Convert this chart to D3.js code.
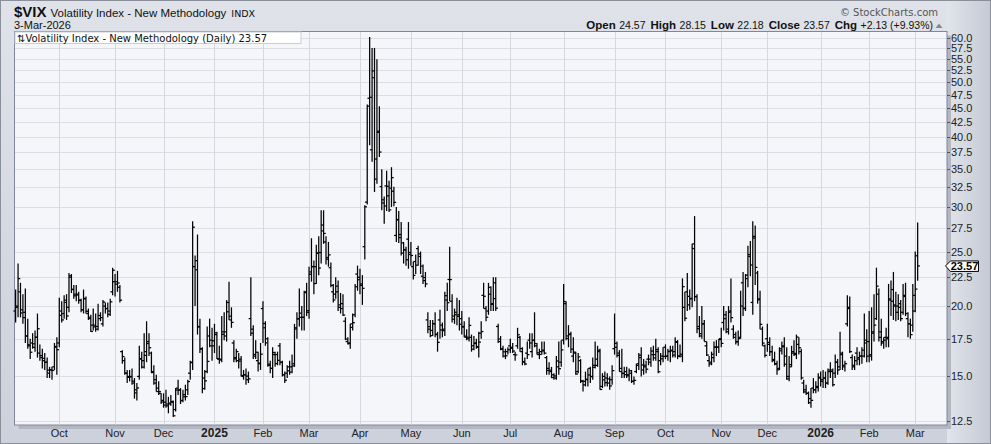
<!DOCTYPE html>
<html><head><meta charset="utf-8">
<script src="https://cdn.jsdelivr.net/npm/d3@7"></script>
<style>html,body{margin:0;padding:0;background:#fff}svg{display:block}</style>
</head><body><svg id="c" width="991" height="444"></svg>
<script>
// ---- DATA ----
const months = ["2024-09","2024-10","2024-11","2024-12","2025-01","2025-02","2025-03","2025-04","2025-05","2025-06","2025-07","2025-08","2025-09","2025-10","2025-11","2025-12","2026-01","2026-02","2026-03"];
const monthDays = [
 [5,6,9,10,11,12,13,16,17,18,19,20,23,24,25,26,27,30],
 [1,2,3,4,7,8,9,10,11,14,15,16,17,18,21,22,23,24,25,28,29,30,31],
 [1,4,5,6,7,8,11,12,13,14,15,18,19,20,21,22,25,26,27,29],
 [2,3,4,5,6,9,10,11,12,13,16,17,18,19,20,23,24,26,27,30,31],
 [2,3,6,7,8,10,13,14,15,16,17,21,22,23,24,27,28,29,30,31],
 [3,4,5,6,7,10,11,12,13,14,18,19,20,21,24,25,26,27,28],
 [3,4,5,6,7,10,11,12,13,14,17,18,19,20,21,24,25,26,27,28,31],
 [1,2,3,4,7,8,9,10,11,14,15,16,17,21,22,23,24,25,28,29,30],
 [1,2,5,6,7,8,9,12,13,14,15,16,19,20,21,22,23,27,28,29,30],
 [2,3,4,5,6,9,10,11,12,13,16,17,18,20,23,24,25,26,27,30],
 [1,2,3,7,8,9,10,11,14,15,16,17,18,21,22,23,24,25,28,29,30,31],
 [1,4,5,6,7,8,11,12,13,14,15,18,19,20,21,22,25,26,27,28,29],
 [2,3,4,5,8,9,10,11,12,15,16,17,18,19,22,23,24,25,26,29,30],
 [1,2,3,6,7,8,9,10,13,14,15,16,17,20,21,22,23,24,27,28,29,30,31],
 [3,4,5,6,7,10,11,12,13,14,17,18,19,20,21,24,25,26,28],
 [1,2,3,4,5,8,9,10,11,12,15,16,17,18,19,22,23,24,26,29,30,31],
 [2,5,6,7,8,9,12,13,14,15,16,20,21,22,23,26,27,28,29,30],
 [2,3,4,5,6,9,10,11,12,13,17,18,19,20,23,24,25,26,27],
 [2,3]
];
const open = [
 19.6,20.0,21.2,19.7,19.5,17.7,17.0,17.2,16.9,17.6,16.5,16.2,16.0,15.9,15.2,15.4,15.6,16.9,
 17.2,19.6,19.4,20.3,19.9,22.5,21.4,21.0,21.0,20.5,19.7,20.6,19.4,19.0,18.5,18.5,18.4,19.0,18.6,20.0,19.8,19.6,21.2,
 22.1,22.1,21.6,16.6,16.0,15.2,15.0,15.0,14.6,14.2,15.0,16.1,16.0,16.6,17.3,16.5,15.3,14.8,14.3,14.0,
 13.6,13.5,13.4,13.4,13.5,13.1,14.3,14.2,13.6,13.8,14.2,15.2,15.9,23.5,23.2,18.4,16.8,14.9,15.3,17.7,17.0,
 17.0,17.8,16.1,16.1,18.0,18.0,20.3,18.9,17.2,16.2,16.0,16.1,15.0,15.1,14.8,19.0,18.2,16.3,16.0,15.8,
 19.8,18.3,17.5,15.7,15.5,16.4,16.4,17.0,15.9,15.1,15.2,15.6,15.6,15.8,18.3,19.0,19.1,19.1,21.2,
 19.5,23.0,23.5,23.5,24.8,24.9,27.2,26.0,24.4,23.4,21.2,21.0,21.2,20.1,20.2,18.8,17.3,17.2,18.6,19.3,22.8,
 22.5,21.9,25.5,30.6,46.8,37.9,50.9,36.5,40.9,32.6,30.5,32.7,31.4,32.4,32.0,26.7,28.5,26.8,25.9,25.2,26.3,
 24.9,23.5,24.0,25.3,24.5,22.6,22.2,18.9,18.2,18.1,18.6,17.8,18.9,18.5,18.2,20.5,22.3,20.4,19.2,19.5,19.3,
 19.0,18.4,17.6,17.5,17.6,17.0,17.2,16.9,17.9,20.9,19.8,19.6,21.0,20.2,22.0,18.4,17.3,16.8,16.3,16.6,
 17.0,16.9,16.4,17.0,17.6,16.6,15.9,16.5,17.4,16.6,17.4,17.0,16.4,16.6,16.7,16.2,15.5,15.3,15.1,14.9,15.6,15.9,
 17.4,20.2,17.7,17.8,16.3,16.5,15.3,16.0,14.7,14.7,14.8,15.5,15.0,15.7,16.1,16.7,14.4,15.0,14.9,14.6,14.8,
 16.8,16.9,16.5,15.5,15.2,15.3,15.1,15.2,14.7,15.3,15.8,16.2,15.4,15.6,16.1,15.9,16.4,16.4,16.6,16.0,16.3,
 16.9,16.3,16.6,16.7,16.6,17.3,16.3,16.3,19.9,21.2,20.1,20.6,25.8,20.8,18.4,17.7,18.6,17.0,16.0,15.9,16.2,16.9,16.9,
 17.5,18.7,19.3,18.2,19.6,18.2,17.8,17.3,17.6,22.0,19.8,22.7,24.5,20.3,26.6,22.9,20.6,18.2,17.0,
 17.5,17.1,16.6,16.0,15.8,15.5,16.8,17.0,16.3,15.0,15.6,16.6,16.4,17.1,16.6,14.6,14.2,14.0,13.7,14.3,14.2,14.4,
 14.9,14.8,14.9,14.6,15.4,15.3,15.2,15.9,15.6,16.4,15.6,18.6,19.8,16.2,15.7,16.5,16.2,16.3,16.7,17.4,
 17.3,16.4,18.0,19.0,21.0,18.0,17.3,17.6,17.6,20.5,21.4,20.0,20.0,20.2,19.5,20.8,19.0,18.6,18.5,
 20.9,24.57
];
const high = [
 21.4,23.8,22.0,21.0,21.5,19.0,17.5,17.9,18.1,19.4,17.1,16.8,16.5,16.2,15.6,15.6,17.2,17.6,
 20.7,20.4,20.9,21.0,22.9,22.8,21.8,21.8,21.2,20.6,21.4,20.8,19.8,19.3,19.8,19.4,20.2,19.5,20.5,20.3,20.3,20.6,23.4,
 22.8,23.1,21.8,16.7,16.2,15.4,15.4,15.5,14.9,14.6,17.0,16.6,17.9,18.8,17.9,16.6,15.7,15.1,14.7,14.0,
 14.0,14.2,13.8,13.9,13.6,14.3,14.8,14.3,14.2,14.5,14.8,16.0,28.3,24.6,26.8,19.0,16.9,15.4,18.4,19.0,18.3,
 18.6,18.0,17.0,19.2,19.5,20.5,22.1,19.9,17.4,16.8,16.5,16.3,15.4,15.5,15.3,22.5,18.5,17.4,16.6,17.2,
 20.4,18.8,17.6,16.0,16.9,16.6,16.6,17.2,16.0,15.3,15.7,16.0,16.4,18.6,19.5,21.5,20.0,21.3,22.0,
 23.5,26.4,24.1,25.7,26.6,29.6,29.6,26.6,26.0,23.9,21.9,22.5,22.2,21.1,21.0,19.1,17.6,18.6,19.4,21.9,23.6,
 23.3,22.7,30.2,45.6,60.1,57.5,57.5,54.9,45.3,35.0,31.3,34.8,33.4,35.3,32.6,30.0,29.5,28.2,26.0,25.5,28.2,
 26.0,24.0,24.7,25.6,25.0,23.7,23.0,19.5,18.9,18.9,19.5,18.0,19.7,18.7,21.2,22.0,25.5,21.0,19.8,20.7,20.5,
 19.6,18.8,18.2,19.1,17.8,17.7,17.5,18.0,18.8,22.0,20.0,22.0,21.7,22.5,22.5,18.6,17.7,17.0,16.8,16.9,
 17.5,17.2,16.6,18.3,17.7,16.9,16.2,17.3,17.9,17.9,19.5,17.2,16.8,17.3,17.3,16.3,15.9,15.6,15.2,16.3,17.3,17.4,
 21.9,20.4,18.5,18.0,17.6,16.6,16.5,16.1,14.8,15.3,15.5,15.6,16.2,17.3,17.0,16.8,15.2,15.3,15.2,15.0,15.7,
 19.4,17.3,16.7,16.8,15.6,15.6,15.5,15.4,15.0,15.8,16.5,16.9,16.1,16.0,16.4,16.9,17.0,17.5,16.9,16.5,16.9,
 17.1,16.8,17.0,17.0,17.6,17.4,17.1,22.4,21.2,22.9,21.4,25.8,28.9,21.0,19.2,20.0,18.9,17.3,16.3,16.6,17.3,17.4,17.5,
 18.3,20.0,19.6,20.0,22.4,18.5,18.0,18.1,21.3,23.0,22.8,25.6,26.1,28.3,27.8,23.1,21.3,18.4,17.1,
 18.6,17.6,17.0,16.6,16.0,16.9,17.3,17.6,16.9,16.3,17.0,17.4,17.8,17.6,16.8,14.8,14.5,14.1,14.3,14.9,14.7,15.2,
 15.3,15.4,15.3,15.5,15.9,15.5,16.4,16.1,18.0,16.6,16.0,20.9,20.8,16.4,16.3,16.9,16.6,16.9,19.4,18.2,
 19.6,19.9,21.0,23.4,21.5,19.0,17.6,18.3,21.9,22.2,23.0,21.2,21.0,20.5,21.9,22.0,19.5,19.0,21.9,
 25.0,28.15
];
const low = [
 18.7,19.1,19.1,18.6,17.2,16.8,16.1,16.8,16.6,16.2,16.0,15.5,15.4,14.9,14.9,14.8,15.4,15.1,
 16.9,18.7,19.0,18.9,19.5,21.1,20.6,20.4,20.2,19.5,19.4,19.4,18.9,18.0,18.1,18.0,18.1,18.8,18.4,19.4,19.1,19.2,20.9,
 20.8,21.2,20.3,15.8,15.1,14.6,14.7,14.5,13.7,13.6,14.8,15.5,15.5,15.9,16.3,15.2,14.5,14.1,13.9,13.4,
 13.2,13.2,12.9,13.3,12.7,13.0,13.9,13.4,13.5,13.6,13.9,14.8,15.4,20.0,17.8,16.5,14.0,14.2,15.2,16.9,16.0,
 16.5,16.1,15.8,15.9,17.4,17.3,18.9,18.3,15.9,15.9,15.5,15.0,14.8,14.5,14.6,17.7,16.1,16.1,15.3,15.4,
 17.2,17.0,15.6,15.2,14.9,15.6,15.7,15.7,15.0,14.6,14.9,15.1,15.2,15.6,17.5,18.4,18.1,18.1,19.2,
 19.0,22.1,21.0,21.9,22.7,23.8,25.8,23.7,23.5,21.6,20.3,20.6,19.6,19.4,19.2,17.4,17.1,16.8,18.1,19.1,21.3,
 21.0,20.1,24.2,30.3,38.6,36.1,31.9,33.0,36.8,29.6,28.0,29.5,29.4,30.0,30.1,26.0,25.9,24.6,23.8,23.6,23.3,
 23.6,22.3,22.8,23.6,22.8,21.9,21.6,17.9,17.6,17.7,17.6,16.6,17.5,17.6,17.7,19.6,20.4,18.7,18.6,18.5,18.1,
 17.8,17.6,17.4,17.3,16.6,16.7,16.8,16.2,17.5,19.8,18.8,19.3,19.6,19.6,19.6,17.2,16.7,16.2,16.1,16.4,
 16.5,16.5,16.0,16.8,16.6,15.7,15.7,16.1,16.8,16.2,16.9,16.4,16.1,16.4,16.4,15.1,15.1,14.9,14.8,14.8,15.1,15.6,
 17.1,17.4,16.9,16.5,15.9,15.1,15.2,14.6,14.1,14.4,14.4,14.6,14.8,15.5,15.6,14.2,14.3,14.4,14.4,14.2,14.5,
 16.4,16.2,15.3,14.9,14.9,14.9,14.7,14.6,14.5,15.2,15.4,15.0,15.1,15.2,15.7,15.6,16.0,16.0,15.2,15.7,15.9,
 16.1,16.0,15.9,16.2,16.2,16.1,16.2,15.9,18.8,19.6,19.7,19.9,20.4,17.9,17.6,17.5,17.3,16.3,15.6,15.7,15.9,16.3,16.5,
 16.9,18.1,17.9,17.8,18.7,17.5,17.1,17.0,17.5,19.2,19.6,21.6,22.6,19.3,21.8,20.2,18.2,17.0,16.2,
 16.6,16.3,15.9,15.7,15.1,15.4,16.4,15.6,14.8,14.7,15.6,16.3,16.1,16.4,14.8,14.0,13.9,13.4,13.2,14.0,14.0,14.1,
 14.4,14.3,14.3,14.5,14.9,14.4,14.9,15.1,15.4,15.4,15.3,18.4,16.5,15.4,15.4,15.7,15.7,15.8,16.2,15.9,
 15.9,16.0,17.3,18.9,17.3,17.0,16.8,16.9,16.9,19.2,18.9,18.8,18.9,18.8,19.3,19.2,17.6,17.5,18.0,
 19.5,22.18
];
const close = [
 19.90,22.38,19.45,19.08,17.69,17.07,16.56,17.14,17.61,18.23,16.33,16.15,15.89,15.39,15.41,15.37,16.96,16.73,
 19.26,18.90,20.49,19.21,22.64,21.42,20.86,20.93,20.46,19.70,20.64,19.58,19.11,18.03,18.37,18.20,19.24,19.08,20.33,19.80,19.34,20.35,23.16,
 21.88,21.98,20.49,16.27,15.20,14.94,14.97,14.71,14.02,14.31,16.14,15.58,16.35,17.16,16.87,15.24,14.60,14.10,14.10,13.51,
 13.34,13.30,13.45,13.54,12.77,14.19,14.18,13.58,13.92,13.81,14.69,15.87,27.62,24.09,18.36,16.78,14.27,14.73,15.95,17.40,17.35,
 17.93,16.13,16.04,17.82,17.70,19.54,19.19,18.71,16.12,16.60,15.97,15.06,15.10,15.02,14.85,17.90,16.41,16.56,15.84,16.43,
 18.62,17.21,15.77,15.50,16.54,15.81,16.02,15.89,15.10,14.77,15.35,15.27,15.66,18.21,18.98,19.43,19.10,21.13,19.63,
 22.78,23.51,21.93,24.87,23.37,27.86,26.92,24.23,24.66,21.77,20.51,21.70,19.90,19.80,19.28,17.48,17.15,18.33,18.69,21.65,22.28,
 21.77,21.51,30.02,45.31,46.98,52.33,33.62,40.72,37.56,30.89,30.12,32.64,29.65,33.82,30.57,28.45,26.47,24.84,25.15,24.17,24.70,
 24.60,22.68,23.64,24.76,23.55,22.48,21.90,18.39,17.72,18.62,17.83,17.24,18.14,18.09,20.87,20.28,22.29,18.96,19.31,19.18,18.57,
 18.36,17.69,17.61,18.48,16.77,17.16,16.95,17.26,18.02,20.82,19.11,21.60,20.14,20.62,19.83,17.48,16.76,16.59,16.32,16.73,
 16.83,16.64,16.38,17.79,16.81,15.94,15.78,16.40,17.20,17.38,17.16,16.52,16.41,16.65,16.50,15.37,15.39,14.93,15.03,15.98,15.48,16.72,
 20.38,17.52,17.85,16.77,16.57,15.15,16.25,14.73,14.49,14.83,15.09,14.99,15.57,15.69,16.60,14.22,14.79,14.62,14.85,14.43,15.36,
 17.17,16.35,15.30,15.18,15.11,15.04,15.35,14.71,14.76,15.69,16.36,15.72,15.70,15.45,16.10,16.64,16.18,16.74,15.29,16.12,16.28,
 16.29,16.63,16.65,16.37,17.24,16.30,16.43,21.66,19.03,20.81,20.64,25.31,20.78,18.23,17.87,18.60,17.30,16.37,15.79,16.42,16.92,16.91,17.44,
 17.17,19.00,18.01,19.50,19.08,17.60,17.28,17.51,20.00,19.83,22.38,24.69,23.66,26.42,23.43,20.52,18.56,17.19,16.35,
 17.24,16.59,16.08,15.78,15.41,16.66,16.93,15.77,14.85,15.74,16.50,16.48,17.62,16.87,14.91,14.08,14.00,13.47,13.60,14.20,14.33,14.95,
 14.7,14.9,14.6,15.3,15.4,14.5,15.9,15.4,16.5,15.7,15.8,19.9,16.6,15.6,16.0,16.1,16.3,16.3,17.2,16.3,
 16.3,17.9,18.5,21.7,17.6,17.2,17.4,17.5,20.6,20.4,20.1,19.5,19.9,19.0,20.9,19.4,18.6,17.8,19.6,
 21.44,23.57
];
const yTicks = [12.5,15,17.5,20,22.5,25,27.5,30,32.5,35,37.5,40,42.5,45,47.5,50,52.5,55,57.5,60];
const monthLabels = ["Oct","Nov","Dec","2025","Feb","Mar","Apr","May","Jun","Jul","Aug","Sep","Oct","Nov","Dec","2026","Feb","Mar"];
const header = {symbol:"$VIX", name:"Volatility Index - New Methodology", exch:"INDX", date:"3-Mar-2026"};
const quote = [["Open","24.57"],["High","28.15"],["Low","22.18"],["Close","23.57"],["Chg","+2.13 (+9.93%)"]];
const legendText = "Volatility Index - New Methodology (Daily) 23.57";
const lastPrice = "23.57";

// ---- BUILD ----
const bars = [];
months.forEach((m, mi) => monthDays[mi].forEach(d => bars.push({date: m + "-" + String(d).padStart(2, "0")})));
bars.forEach((b, i) => { b.o = open[i]; b.h = high[i]; b.l = low[i]; b.c = close[i]; b.i = i; });
const monthStarts = [];
let acc = 0;
monthDays.forEach((days, mi) => { if (mi > 0) monthStarts.push(acc); acc += days.length; });

const svg = d3.select("#c");
const W = 991, H = 444;
const P = {l: 14.5, r: 947, t: 31.5, b: 425};
const x = d3.scaleLinear().domain([-0.47, 384.1]).range([P.l, P.r]);
const y = d3.scaleLog().domain([12.5, 60]).range([421, 37.5]);

const defs = svg.append("defs");
const bg = defs.append("linearGradient").attr("id", "bg").attr("x1", 0).attr("y1", 0).attr("x2", 0).attr("y2", 1);
bg.append("stop").attr("offset", "0").attr("stop-color", "#dfe2e9");
bg.append("stop").attr("offset", "1").attr("stop-color", "#cdd1db");
const ax = defs.append("linearGradient").attr("id", "ax").attr("x1", 0).attr("y1", 0).attr("x2", 1).attr("y2", 0);
ax.append("stop").attr("offset", "0").attr("stop-color", "#e1e4ea");
ax.append("stop").attr("offset", "1").attr("stop-color", "#c4c9d4");

svg.append("rect").attr("width", W).attr("height", H).attr("fill", "url(#bg)");
svg.append("rect").attr("x", P.r).attr("y", 0).attr("width", W - P.r).attr("height", H).attr("fill", "url(#ax)");
svg.append("rect").attr("x", 0.5).attr("y", 0.5).attr("width", W - 1).attr("height", H - 1)
  .attr("fill", "none").attr("stroke", "#8a8f99");

// shadow + plot
svg.append("rect").attr("x", P.l + 4).attr("y", P.t + 4).attr("width", P.r - P.l).attr("height", P.b - P.t)
  .attr("fill", "#b3b7c1");
svg.append("rect").attr("x", P.l).attr("y", P.t).attr("width", P.r - P.l).attr("height", P.b - P.t)
  .attr("fill", "#f5f6fa").attr("stroke", "#80879a").attr("stroke-width", 1);

const plot = svg.append("g");
// grid
plot.selectAll("line.hg").data(yTicks).join("line")
  .attr("x1", P.l + 0.5).attr("x2", P.r - 0.5)
  .attr("y1", d => Math.round(y(d)) + 0.5).attr("y2", d => Math.round(y(d)) + 0.5)
  .attr("stroke", "#dcdee5").attr("stroke-width", 1);
plot.selectAll("line.vg").data(monthStarts).join("line")
  .attr("x1", d => Math.round(x(d)) + 0.5).attr("x2", d => Math.round(x(d)) + 0.5)
  .attr("y1", P.t + 0.5).attr("y2", P.b - 0.5)
  .attr("stroke", "#d6d8df").attr("stroke-width", 1);

// OHLC bars
const bg2 = plot.append("g").attr("stroke", "#000").attr("stroke-width", 1.25);
const px = i => x(i);
const py = v => y(v);
bg2.selectAll("line.hl").data(bars).join("line")
  .attr("x1", d => px(d.i)).attr("x2", d => px(d.i))
  .attr("y1", d => y(d.h)).attr("y2", d => y(d.l));
bg2.selectAll("line.op").data(bars).join("line")
  .attr("x1", d => px(d.i) - 2.2).attr("x2", d => px(d.i))
  .attr("y1", d => py(d.o)).attr("y2", d => py(d.o));
bg2.selectAll("line.cl").data(bars).join("line")
  .attr("x1", d => px(d.i)).attr("x2", d => px(d.i) + 2.2)
  .attr("y1", d => py(d.c)).attr("y2", d => py(d.c));

// right axis
const ra = svg.append("g");
ra.selectAll("line.t").data(yTicks).join("line")
  .attr("x1", P.r).attr("x2", P.r + 3)
  .attr("y1", d => Math.round(y(d)) + 0.5).attr("y2", d => Math.round(y(d)) + 0.5)
  .attr("stroke", "#555");
ra.selectAll("text").data(yTicks).join("text")
  .attr("x", 951).attr("y", d => y(d) + 4)
  .attr("font-family", "Liberation Sans, Arial, sans-serif").attr("font-size", 11).attr("fill", "#222")
  .text(d => d.toFixed(1));

// price marker
const yp = y(+lastPrice);
svg.append("path")
  .attr("d", `M945.5,${yp} L950.5,${yp - 5} L978.5,${yp - 5} L978.5,${yp + 5.5} L950.5,${yp + 5.5} Z`)
  .attr("fill", "#fff").attr("stroke", "#000").attr("stroke-width", 1);
svg.append("text").attr("x", 964.5).attr("y", yp + 4).attr("text-anchor", "middle")
  .attr("font-family", "Liberation Sans, Arial, sans-serif").attr("font-size", 11).attr("font-weight", "bold")
  .text(lastPrice);

// x axis labels
svg.selectAll("text.xl").data(monthStarts).join("text")
  .attr("x", d => x(d)).attr("y", 437).attr("text-anchor", "middle")
  .attr("font-family", "Liberation Sans, Arial, sans-serif")
  .attr("font-size", (d, i) => /^\d+$/.test(monthLabels[i]) ? 12 : 11)
  .attr("font-weight", (d, i) => /^\d+$/.test(monthLabels[i]) ? "bold" : "normal")
  .attr("fill", "#222")
  .text((d, i) => monthLabels[i]);

// legend
svg.append("rect").attr("x", P.l + 0.5).attr("y", P.t + 0.5).attr("width", 286).attr("height", 11.5)
  .attr("fill", "#fff").attr("stroke", "#c9ccd4");
svg.append("text").attr("x", 17).attr("y", 41.5)
  .attr("font-family", "DejaVu Sans, Verdana, sans-serif").attr("font-size", 10).attr("fill", "#111")
  .text("\u21C5" + legendText);

// header
const ht = svg.append("text").attr("x", 14).attr("y", 16.5).attr("fill", "#111")
  .attr("font-family", "Liberation Sans, Arial, sans-serif");
ht.append("tspan").attr("font-size", 15).attr("font-weight", "bold").text(header.symbol);
ht.append("tspan").attr("font-size", 11.5).attr("dx", 4).text(header.name);
ht.append("tspan").attr("font-size", 9.5).attr("dx", 5).attr("font-family", "DejaVu Sans, Verdana, sans-serif").text(header.exch);
svg.append("text").attr("x", 14).attr("y", 28.5).attr("font-family", "Liberation Sans, Arial, sans-serif")
  .attr("font-size", 11).attr("fill", "#111").text(header.date);
svg.append("text").attr("x", 938).attr("y", 16).attr("text-anchor", "end")
  .attr("font-family", "DejaVu Sans, Verdana, sans-serif").attr("font-size", 10).attr("fill", "#555")
  .text("\u00A9 StockCharts.com");
const qt = svg.append("text").attr("x", 933).attr("y", 28.5).attr("text-anchor", "end").attr("fill", "#111")
  .attr("font-family", "Liberation Sans, Arial, sans-serif");
quote.forEach(([k, v], i) => {
  qt.append("tspan").attr("font-size", 11.5).attr("font-weight", "bold").attr("dx", i ? 5 : 0).text(k);
  qt.append("tspan").attr("font-size", 10.5).attr("dx", 3.5).text(v);
});
svg.append("path").attr("d", "M935.5,28 L939,23.5 L942.5,28 Z").attr("fill", "#888");
</script>
</body></html>
